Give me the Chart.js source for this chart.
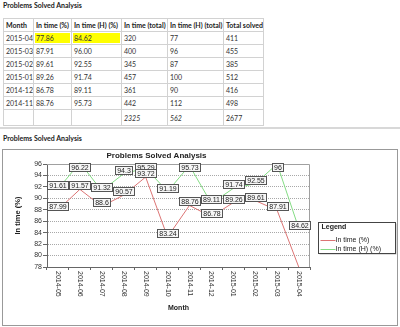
<!DOCTYPE html>
<html>
<head>
<meta charset="utf-8">
<script src="https://cdn.jsdelivr.net/npm/chart.js@4/dist/chart.umd.min.js"></script>
<style>
    html, body { margin: 0; padding: 0; background: #fff; }
    body { width: 400px; height: 327px; position: relative; overflow: hidden; font-family: Lato, "Open Sans", sans-serif; }
    .heading { position: absolute; left: 3px; font-size: 7px; font-weight: bold; color: #222; line-height: 10px; }
    table { position: absolute; left: 3px; top: 18px; border-collapse: collapse; font-size: 7px; color: #333; table-layout: fixed; }
    td, th { border: 1px solid #d2d2d2; padding: 0 0 0 2px; text-align: left; height: 12px; white-space: nowrap; overflow: hidden; }
    th { font-weight: bold; color: #222; }
    tr.total td { height: 15px; }
    td.hl { background: #ffff00; box-shadow: inset 0 0 0 1px #fff; }
    td.it { font-style: italic; }
    .sep { position: absolute; left: 0; top: 127px; width: 400px; height: 2px; background: #d8d8d8; }
    .box { position: absolute; left: 2px; top: 149px; width: 394px; height: 175px; border: 1px solid #999; }
    canvas { display: block; }
</style>
</head>
<body>
<div class="heading" style="top:0">Problems Solved Analysis</div>
<table id="summary"></table>
<div class="sep"></div>
<div class="heading" style="top:133px">Problems Solved Analysis</div>
<div class="box"><canvas id="solvedChart" width="394" height="175"></canvas></div>

<script>
// table data
const tableHeaders = ['Month', 'In time (%)', 'In time (H) (%)', 'In time (total)', 'In time (H) (total)', 'Total solved'];
const tableWidths = [29, 38, 50, 46, 56, 40];
const tableMonths = ['2015-04', '2015-03', '2015-02', '2015-01', '2014-12', '2014-11'];
const tableInTime = ['77.86', '87.91', '89.61', '89.26', '86.78', '88.76'];
const tableInTimeH = ['84.62', '96.00', '92.55', '91.74', '89.11', '95.73'];
const tableTotal = [320, 400, 345, 457, 361, 442];
const tableTotalH = [77, 96, 87, 100, 90, 112];
const tableSolved = [411, 455, 385, 512, 416, 498];
const tableSums = ['', '', '', 2325, 562, 2677];

// chart data
const months = ['2014-05', '2014-06', '2014-07', '2014-08', '2014-09', '2014-10',
    '2014-11', '2014-12', '2015-01', '2015-02', '2015-03', '2015-04'];
const inTime = [87.99, 91.57, 88.6, 90.57, 93.72, 83.24, 88.76, 86.78, 89.26, 89.61, 87.91, 77.86];
const inTimeH = [91.61, 96.22, 91.32, 94.3, 95.29, 91.19, 95.73, 89.11, 91.74, 92.55, 96, 84.62];
const yMin = 78;
const yMax = 96;
const yStep = 2;

function buildTable() {
    const table = document.getElementById('summary');
    let html = '<colgroup>' + tableWidths.map((w) => `<col style="width:${w}px">`).join('') + '</colgroup>';
    html += '<tr>' + tableHeaders.map((h) => `<th>${h}</th>`).join('') + '</tr>';
    tableMonths.forEach((m, i) => {
        const hl = i === 0 ? ' class="hl"' : '';
        html += `<tr><td>${m}</td><td${hl}>${tableInTime[i]}</td><td${hl}>${tableInTimeH[i]}</td>`
            + `<td>${tableTotal[i]}</td><td>${tableTotalH[i]}</td><td>${tableSolved[i]}</td></tr>`;
    });
    html += '<tr class="total">' + tableSums.map((v, i) => `<td${i < 5 ? ' class="it"' : ''}>${v}</td>`).join('') + '</tr>';
    table.innerHTML = html;
}

buildTable();

const chartFont = '"Liberation Sans", Arial, sans-serif';
Chart.defaults.font.family = chartFont;
Chart.defaults.font.size = 7;
Chart.defaults.color = '#333';

// boxed value labels above each point (points below the axis get none)
const boxLabels = {
    id: 'boxLabels',
    afterDatasetsDraw(chart) {
        const { ctx, chartArea } = chart;
        const order = [1, 0];
        ctx.save();
        ctx.font = `7px ${chartFont}`;
        ctx.textAlign = 'center';
        ctx.textBaseline = 'middle';
        order.forEach((di) => {
            const meta = chart.getDatasetMeta(di);
            const values = chart.data.datasets[di].data;
            meta.data.forEach((pt, i) => {
                const v = values[i];
                if (v < yMin) {
                    return;
                }
                const text = String(v);
                const w = Math.round(ctx.measureText(text).width) + 3;
                const h = 8;
                let cy = pt.y - 4;
                cy = Math.max(cy, chartArea.top + 3);
                const x0 = Math.round(pt.x - w / 2) + 0.5;
                const y0 = Math.round(cy - h / 2) + 0.5;
                ctx.fillStyle = '#f6f6f6';
                ctx.fillRect(x0, y0, w, h);
                ctx.strokeStyle = '#555';
                ctx.lineWidth = 1;
                ctx.strokeRect(x0, y0, w, h);
                ctx.fillStyle = '#222';
                ctx.fillText(text, x0 + w / 2, y0 + h / 2 + 0.5);
            });
        });
        ctx.restore();
    },
};

// plot frame, rotated month labels and the boxed legend
const frameAndLegend = {
    id: 'frameAndLegend',
    beforeDatasetsDraw(chart) {
        const { ctx, chartArea } = chart;
        ctx.save();
        ctx.strokeStyle = '#a0a0a0';
        ctx.lineWidth = 1;
        ctx.beginPath();
        ctx.moveTo(chartArea.left, chartArea.top + 0.5);
        ctx.lineTo(chartArea.right - 0.5, chartArea.top + 0.5);
        ctx.lineTo(chartArea.right - 0.5, chartArea.bottom);
        ctx.stroke();
        ctx.restore();
    },
    afterDraw(chart) {
        const { ctx } = chart;
        const xScale = chart.scales.x;
        ctx.save();
        ctx.font = `7px ${chartFont}`;
        ctx.fillStyle = '#333';
        ctx.textAlign = 'left';
        ctx.textBaseline = 'middle';
        months.forEach((m, i) => {
            const x = xScale.getPixelForValue(i);
            ctx.save();
            ctx.translate(x, xScale.top + 4);
            ctx.rotate(Math.PI / 2);
            ctx.fillText(m, 0, 0);
            ctx.restore();
        });

        // legend box
        const lx = 315.5;
        const ly = 72.5;
        const lw = 77;
        const lh = 31;
        ctx.fillStyle = '#bbb';
        ctx.fillRect(lx + 1, ly + 1, lw, lh);
        ctx.fillStyle = '#fff';
        ctx.fillRect(lx, ly, lw, lh);
        ctx.strokeStyle = '#444';
        ctx.lineWidth = 1;
        ctx.strokeRect(lx, ly, lw, lh);
        ctx.fillStyle = '#222';
        ctx.font = `bold 7px ${chartFont}`;
        ctx.fillText('Legend', lx + 3, ly + 5);
        ctx.font = `7px ${chartFont}`;
        chart.data.datasets.forEach((ds, i) => {
            const y = Math.round(ly + 17 + i * 9.5) + 0.5;
            ctx.strokeStyle = ds.borderColor;
            ctx.beginPath();
            ctx.moveTo(lx + 2, y);
            ctx.lineTo(lx + 17, y);
            ctx.stroke();
            ctx.fillStyle = '#222';
            ctx.fillText(ds.label, lx + 17, y);
        });
        ctx.restore();
    },
};

new Chart(document.getElementById('solvedChart'), {
    type: 'line',
    data: {
        labels: months,
        datasets: [
            {
                label: 'In time (%)',
                data: inTime,
                borderColor: '#dc7474',
                borderWidth: 1,
                pointRadius: 0,
                tension: 0,
                clip: { left: 0, top: 3, right: 0, bottom: 0 },
            },
            {
                label: 'In time (H) (%)',
                data: inTimeH,
                borderColor: '#84dc84',
                borderWidth: 1,
                pointRadius: 0,
                tension: 0,
                clip: { left: 0, top: 3, right: 0, bottom: 0 },
            },
        ],
    },
    options: {
        responsive: false,
        animation: false,
        devicePixelRatio: 1,
        layout: {
            padding: { top: 0, right: 87, bottom: 0, left: 0 },
        },
        plugins: {
            legend: { display: false },
            tooltip: { enabled: false },
            title: {
                display: true,
                text: 'Problems Solved Analysis',
                color: '#222',
                font: { size: 8, weight: 'bold' },
                padding: { top: 1, bottom: 3.4 },
            },
        },
        scales: {
            x: {
                offset: true,
                grid: {
                    offset: true,
                    drawOnChartArea: false,
                    tickLength: 3,
                    tickColor: '#666',
                },
                border: { color: '#666' },
                ticks: { display: false },
                title: {
                    display: true,
                    text: 'Month',
                    color: '#222',
                    font: { size: 7, weight: 'bold' },
                    padding: { top: 0, bottom: 12.8 },
                },
                afterFit(scale) {
                    scale.height = 58;
                },
            },
            y: {
                min: yMin,
                max: yMax,
                ticks: {
                    stepSize: yStep,
                    padding: 1,
                    color: '#333',
                },
                grid: {
                    color: '#a8a8a8',
                    tickColor: '#666',
                    tickLength: 4,
                    tickBorderDash: [],
                },
                border: { color: '#666', dash: [1, 1] },
                title: {
                    display: true,
                    text: 'In time (%)',
                    color: '#222',
                    font: { size: 7.5, weight: 'bold' },
                    padding: { top: 10.5, bottom: 0 },
                },
                afterFit(scale) {
                    scale.width = 44;
                },
            },
        },
    },
    plugins: [boxLabels, frameAndLegend],
});
</script>
</body>
</html>
